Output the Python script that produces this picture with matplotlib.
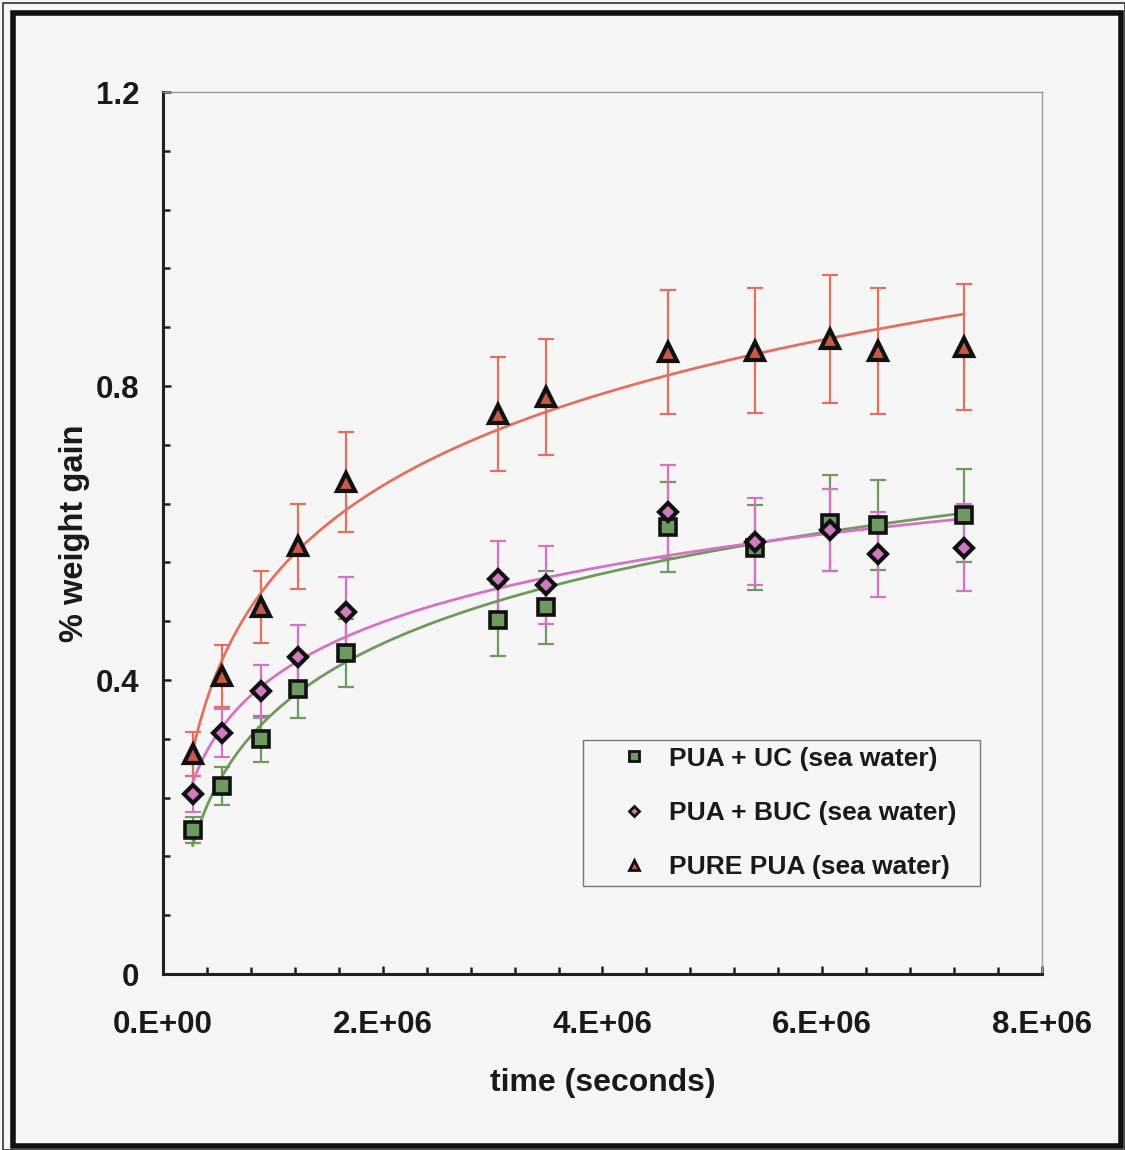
import numpy as np
import matplotlib
matplotlib.use("Agg")
import matplotlib.pyplot as plt
from matplotlib.lines import Line2D
from matplotlib.patches import Rectangle
from matplotlib.ticker import MultipleLocator, FuncFormatter

plt.rcParams['font.family'] = ['Liberation Sans', 'DejaVu Sans']
plt.rcParams['font.weight'] = 'bold'

# immersion times (seconds)
time_s = np.array([0.27, 0.54, 0.89, 1.23, 1.665, 3.05, 3.485, 4.60, 5.39, 6.07, 6.51, 7.29]) * 1e6

# % weight gain and standard deviations
uc_gain = [0.196, 0.256, 0.320, 0.388, 0.437, 0.482, 0.499, 0.608, 0.580, 0.614, 0.611, 0.624]
uc_err = [0.018, 0.026, 0.031, 0.039, 0.046, 0.049, 0.050, 0.061, 0.058, 0.065, 0.061, 0.063]

buc_gain = [0.245, 0.328, 0.385, 0.431, 0.492, 0.537, 0.529, 0.629, 0.588, 0.604, 0.571, 0.580]
buc_err = [0.024, 0.033, 0.036, 0.044, 0.048, 0.052, 0.053, 0.063, 0.059, 0.056, 0.058, 0.059]

pure_gain = [0.299, 0.405, 0.500, 0.582, 0.669, 0.762, 0.785, 0.846, 0.848, 0.864, 0.848, 0.853]
pure_err = [0.030, 0.042, 0.049, 0.058, 0.068, 0.077, 0.079, 0.084, 0.085, 0.087, 0.086, 0.086]

labels = ["PUA + UC (sea water)", "PUA + BUC (sea water)", "PURE PUA (sea water)"]

BG = "#F6F6F6"
fig = plt.figure(figsize=(11.25, 11.5), dpi=100, facecolor=BG)
ax = fig.add_axes([0.1449, 0.1530, 0.7813, 0.7670], facecolor=BG)

series = [
    (uc_gain, uc_err, "s", "#6E9A5C", "#6E9A62", 11, 2.6),
    (buc_gain, buc_err, "D", "#D672C6", "#D07BC0", 9.5, 3.0),
    (pure_gain, pure_err, "^", "#E3705E", "#C85848", 12.5, 3.0),
]

# error bars first
for gain, err, mk, lc, fc, ms, mew in series:
    ax.errorbar(time_s, gain, yerr=err, fmt="none", ecolor=lc, elinewidth=1.6,
                capsize=6, capthick=1.6, zorder=2)

# logarithmic trendlines fitted to each series
for gain, err, mk, lc, fc, ms, mew in series:
    c = np.polyfit(np.log(time_s), gain, 1)
    tt = np.linspace(time_s.min(), time_s.max(), 300)
    ax.plot(tt, np.polyval(c, np.log(tt)), color=lc, lw=2.0, zorder=3)

# markers on top
for gain, err, mk, lc, fc, ms, mew in series:
    ax.plot(time_s, gain, ls="none", marker=mk, markersize=ms, markerfacecolor=fc,
            markeredgecolor="#111111", markeredgewidth=mew, zorder=4)

ax.set_xlim(0, 8e6)
ax.set_ylim(0, 1.2)
ax.xaxis.set_major_locator(MultipleLocator(2e6))
ax.xaxis.set_minor_locator(MultipleLocator(0.4e6))
ax.yaxis.set_major_locator(MultipleLocator(0.4))
ax.yaxis.set_minor_locator(MultipleLocator(0.08))

def xfmt(v, pos):
    m, e = f"{v:.0E}".split("E")
    return f"{m}.E{e[0]}{int(e[1:]):02d}"

def yfmt(v, pos):
    if abs(v) < 1e-9:
        return "0"
    return f"{v:.1f}"

ax.xaxis.set_major_formatter(FuncFormatter(xfmt))
ax.yaxis.set_major_formatter(FuncFormatter(yfmt))

ax.tick_params(axis="both", which="both", direction="in", color="#222222", width=1.8)
ax.tick_params(axis="both", which="major", length=6)
ax.tick_params(axis="both", which="minor", length=5)
ax.tick_params(axis="x", which="major", pad=26, labelsize=22.5, labelcolor="#1a1a1a")
ax.tick_params(axis="y", which="major", pad=17, labelsize=22.5, labelcolor="#1a1a1a")

for side in ("left", "bottom"):
    ax.spines[side].set_linewidth(2.2)
    ax.spines[side].set_color("#222222")
for side in ("top", "right"):
    ax.spines[side].set_linewidth(1.0)
    ax.spines[side].set_color("#999999")

ax.set_xlabel("time (seconds)", fontsize=23, fontweight="bold", color="#1a1a1a", labelpad=20)
ax.set_ylabel("% weight gain", fontsize=23.5, fontweight="bold", color="#1a1a1a", labelpad=4)

handles = [
    Line2D([], [], ls="none", marker="s", markersize=6.5, markerfacecolor="#6E9A62",
           markeredgecolor="#111111", markeredgewidth=2),
    Line2D([], [], ls="none", marker="D", markersize=5.5, markerfacecolor="#D07BC0",
           markeredgecolor="#111111", markeredgewidth=2),
    Line2D([], [], ls="none", marker="^", markersize=7, markerfacecolor="#C85848",
           markeredgecolor="#111111", markeredgewidth=2),
]
leg = ax.legend(handles, labels, loc="upper left",
                bbox_to_anchor=(0.4778, 0.0, 0.4516, 0.2653), mode="expand",
                fontsize=19, frameon=True, fancybox=False, edgecolor="#777777",
                facecolor=BG, framealpha=1, handlelength=3.4, handletextpad=-0.4,
                labelspacing=1.15, borderpad=0.25, borderaxespad=0)
leg.get_frame().set_linewidth(1.0)
for t in leg.get_texts():
    t.set_color("#1a1a1a")

# page frame
W, H = 1125, 1150
fig.patches.append(Rectangle((12.5 / W, 4 / H), (1121 - 12.5) / W, (1137.5 - 4) / H,
                             transform=fig.transFigure, fill=False, lw=4,
                             edgecolor="#111111", zorder=10))
fig.patches.append(Rectangle((3 / W, 0), (1125 - 3) / W, (1147 - 0) / H,
                             transform=fig.transFigure, fill=False, lw=1.2,
                             edgecolor="#333333", zorder=10))

fig.savefig("out.png", dpi=100, facecolor=BG)
